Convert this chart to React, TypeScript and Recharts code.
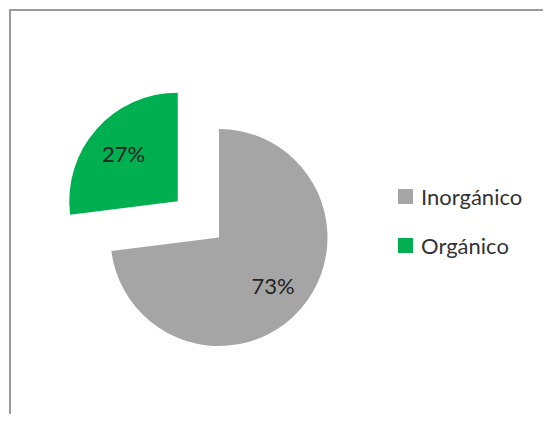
import { PieChart, Pie, Cell } from 'recharts';

const categories = ['Inorgánico', 'Orgánico'];
const values = [73, 27];
const colors = ['#A5A5A5', '#00B050'];
const explodedIndex = 1;

const data = categories.map((name, i) => ({ name, value: values[i] }));

const CX = 219;
const CY = 237.5;
const RADIUS = 108.5;
const EXPLODE = 55;
const FONT = 'Lato, "Open Sans", sans-serif';

// offset of the exploded slice along its mid angle
const total = values.reduce((a, b) => a + b, 0);
const before = values.slice(0, explodedIndex).reduce((a, b) => a + b, 0);
const midDeg = 90 - (360 * (before + values[explodedIndex] / 2)) / total;
const dx = EXPLODE * Math.cos((midDeg * Math.PI) / 180);
const dy = -EXPLODE * Math.sin((midDeg * Math.PI) / 180);

const RAD = Math.PI / 180;

const makeLabel = (show: number) => (props: any) => {
  const { cx, cy, midAngle, outerRadius, index, value } = props;
  if (index !== show) return null;
  const r = outerRadius * 0.665;
  const x = cx + r * Math.cos(-midAngle * RAD);
  const y = cy + r * Math.sin(-midAngle * RAD);
  return (
    <text x={x} y={y} fill="#222" textAnchor="middle" dominantBaseline="central" fontSize={22} fontFamily={FONT}>
      {`${value}%`}
    </text>
  );
};

const LegendBox = () => (
  <div style={{ position: 'absolute', left: 398, top: 183, fontFamily: FONT, fontSize: 22, color: '#333' }}>
    {categories.map((name, i) => (
      <div key={name} style={{ display: 'flex', alignItems: 'center', height: 26, marginBottom: i === 0 ? 23 : 0 }}>
        <div style={{ width: 15, height: 15, background: colors[i], marginRight: 8 }} />
        <span>{name}</span>
      </div>
    ))}
  </div>
);

export default function App() {
  return (
    <div style={{ position: 'relative', width: 551, height: 422, margin: -8, overflow: 'hidden', background: '#fff' }}>
      <div
        style={{
          position: 'absolute',
          left: 9,
          top: 9,
          width: 600,
          height: 450,
          borderTop: '2px solid #9a9a9a',
          borderLeft: '2px solid #9a9a9a',
        }}
      />
      <div style={{ position: 'absolute', left: 0, top: 0 }}>
        <PieChart width={551} height={422} margin={{ top: 0, right: 0, bottom: 0, left: 0 }}>
          <Pie
            data={data}
            dataKey="value"
            nameKey="name"
            cx={CX}
            cy={CY}
            outerRadius={RADIUS}
            startAngle={90}
            endAngle={-270}
            stroke="none"
            labelLine={false}
            label={makeLabel(0)}
            isAnimationActive={false}
          >
            {data.map((d, i) => (
              <Cell key={d.name} fill={i === explodedIndex ? 'none' : colors[i]} />
            ))}
          </Pie>
          <Pie
            data={data}
            dataKey="value"
            nameKey="name"
            cx={CX + dx}
            cy={CY + dy}
            outerRadius={RADIUS}
            startAngle={90}
            endAngle={-270}
            stroke="none"
            labelLine={false}
            label={makeLabel(explodedIndex)}
            isAnimationActive={false}
          >
            {data.map((d, i) => (
              <Cell key={d.name} fill={i === explodedIndex ? colors[i] : 'none'} />
            ))}
          </Pie>
        </PieChart>
      </div>
      <LegendBox />
    </div>
  );
}
